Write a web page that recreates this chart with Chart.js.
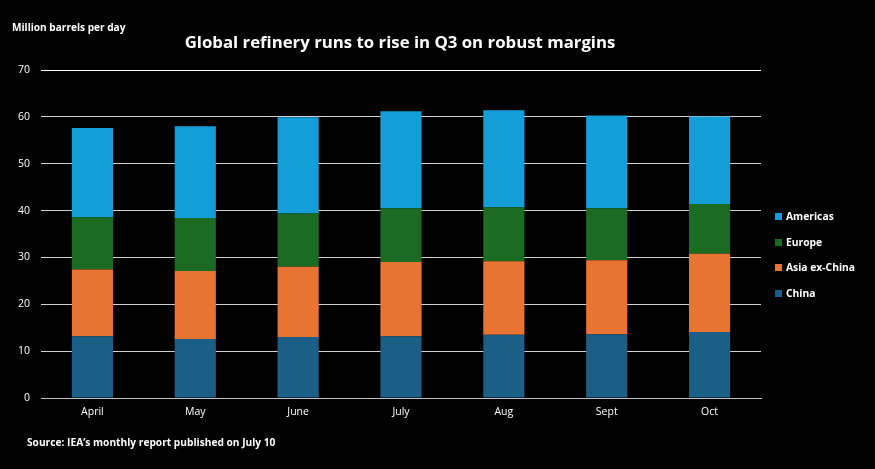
<!DOCTYPE html>
<html>
<head>
<meta charset="utf-8">
<script src="https://cdn.jsdelivr.net/npm/chart.js@4/dist/chart.umd.min.js"></script>
<style>
  html, body { margin: 0; padding: 0; background: #000; }
  body { width: 875px; height: 469px; position: relative; overflow: hidden; font-family: "Open Sans", sans-serif; color: #fff; }
  #wrap { position: absolute; left: 0; top: 0; width: 875px; height: 469px; }
  .unit { position: absolute; left: 12px; top: 20px; font-size: 10.1px; font-weight: 700; }
  .title { position: absolute; left: 0; width: 800px; text-align: center; top: 30px; font-size: 16.8px; font-weight: 700; }
  .source { position: absolute; left: 27px; top: 435px; font-size: 10.2px; font-weight: 700; }
  #legend { position: absolute; left: 775px; top: 209px; font-size: 10.3px; font-weight: 700; }
  #legend div { height: 25.5px; display: flex; align-items: flex-start; }
  #legend span.box { display: inline-block; width: 7px; height: 7px; margin: 4px 4px 0 0; }
</style>
</head>
<body>
<div id="wrap"><canvas id="chart"></canvas></div>
<div class="unit">Million barrels per day</div>
<div class="title">Global refinery runs to rise in Q3 on robust margins</div>
<div class="source">Source: IEA’s monthly report published on July 10</div>
<div id="legend"></div>
<script>
const months = ["April", "May", "June", "July", "Aug", "Sept", "Oct"];
const china = [13.2, 12.6, 13.0, 13.2, 13.5, 13.6, 14.1];
const asiaExChina = [14.2, 14.5, 15.0, 15.8, 15.7, 15.8, 16.7];
const europe = [11.2, 11.3, 11.4, 11.5, 11.5, 11.1, 10.6];
const americas = [19.0, 19.6, 20.5, 20.7, 20.7, 19.8, 18.7];
const yTicks = [0, 10, 20, 30, 40, 50, 60, 70];

const series = [
  { label: "China", data: china, color: "#1b5f87" },
  { label: "Asia ex-China", data: asiaExChina, color: "#e97332" },
  { label: "Europe", data: europe, color: "#1c6b23" },
  { label: "Americas", data: americas, color: "#139ed8" }
];

const tickFont = { size: 10.5, family: "'Open Sans', sans-serif" };

new Chart(document.getElementById("chart"), {
  type: "bar",
  data: {
    labels: months,
    datasets: series.map(s => ({
      label: s.label,
      data: s.data,
      backgroundColor: s.color,
      borderWidth: 0,
      barPercentage: 0.4,
      categoryPercentage: 1
    }))
  },
  options: {
    responsive: true,
    maintainAspectRatio: false,
    animation: false,
    layout: { padding: { top: 70, right: 114, left: 0, bottom: 41 } },
    plugins: {
      legend: { display: false },
      tooltip: { enabled: false }
    },
    scales: {
      x: {
        stacked: true,
        grid: { display: false, drawTicks: false },
        border: { color: "#bfbfbf", width: 1 },
        ticks: { color: "#fff", font: tickFont, padding: 8, maxRotation: 0 },
        afterFit: axis => { axis.height = 30; }
      },
      y: {
        stacked: true,
        min: 0,
        max: 70,
        afterBuildTicks: axis => { axis.ticks = yTicks.map(v => ({ value: v })); },
        grid: { color: ctx => ctx.tick && ctx.tick.value === 70 ? "#ffffff" : "#d0d0d0", drawTicks: false, lineWidth: 1 },
        border: { display: false },
        ticks: { color: "#fff", font: tickFont, padding: 11 },
        afterFit: axis => { axis.width = 41; }
      }
    }
  }
});

const legend = document.getElementById("legend");
series.slice().reverse().forEach(s => {
  const row = document.createElement("div");
  row.innerHTML = '<span class="box" style="background:' + s.color + '"></span>' + s.label;
  legend.appendChild(row);
});
</script>
</body>
</html>
